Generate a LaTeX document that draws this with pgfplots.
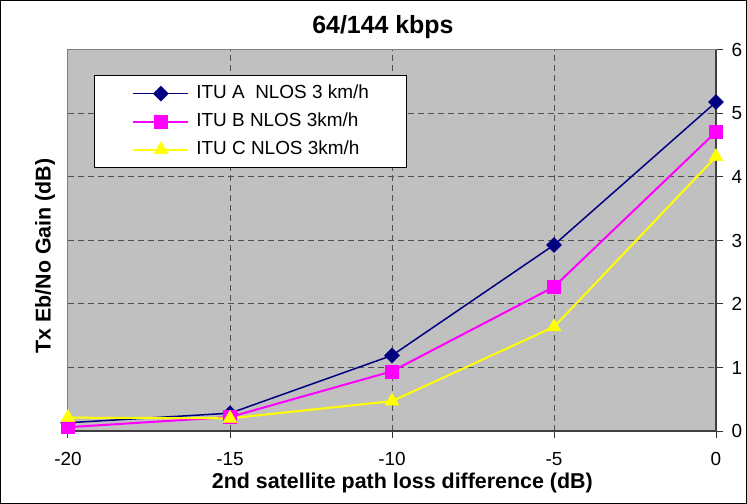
\documentclass[border=0pt]{standalone}
\usepackage{pgfplots}
\usepackage{pgfplotstable}
\pgfplotsset{compat=1.18}
\usepackage{fontspec}
\setmainfont{Liberation Sans}

\definecolor{plotgray}{RGB}{192,192,192}
\definecolor{gridgray}{RGB}{80,80,80}
\definecolor{ituA}{RGB}{0,0,128}
\definecolor{ituB}{RGB}{255,0,255}
\definecolor{ituC}{RGB}{255,255,0}

% gain vs. 2nd satellite path loss difference
\pgfplotstableread{
x     a     b     c
-20   0.13  0.06  0.21
-15   0.28  0.22  0.20
-10   1.19  0.94  0.47
-5    2.93  2.27  1.64
0     5.18  4.71  4.32
}\gaindata

\begin{document}
\begin{tikzpicture}
\begin{axis}[
    name=ax,
    scale only axis,
    width=648bp, height=381bp,
    xmin=-20, xmax=0, ymin=0, ymax=6,
    xtick={-20,-15,-10,-5,0},
    xticklabels={-20,-15,-10,-5,0},
    ytick={0,1,2,3,4,5,6},
    xtick pos=bottom, ytick pos=right,
    yticklabel pos=right,
    tick align=outside,
    major tick length=7bp,
    tick style={black!80, line width=1bp},
    /pgf/number format/assume math mode=true,
    ticklabel style={font=\fontsize{19}{19}\selectfont},
    xticklabel style={yshift=-11bp},
    yticklabel style={xshift=5bp},
    axis background/.style={fill=plotgray},
    axis line style={draw=gray, line width=1bp},
    grid=major,
    major grid style={gridgray, dashed, dash pattern=on 6bp off 4bp, line width=1bp},
    clip=false,
    title={64/144 kbps},
    title style={font=\bfseries\fontsize{25}{25}\selectfont, at={(0.486,1)}, anchor=base, yshift=11bp},
    xlabel={2nd satellite path loss difference (dB)},
    xlabel style={font=\bfseries\fontsize{21.5}{21.5}\selectfont, at={(0.516,0)}, anchor=base, yshift=-57bp},
    ylabel={Tx Eb/No Gain (dB)},
    ylabel style={font=\bfseries\fontsize{21.5}{21.5}\selectfont, at={(0,0.459)}, anchor=center, yshift=23bp},
    legend cell align=left,
    legend style={
        at={(0.040,0.934)}, anchor=north west,
        draw=black, fill=white, line width=1bp,
        font=\fontsize{19}{19}\selectfont,
        inner xsep=38bp, inner ysep=9bp,
        row sep=10bp, column sep=7bp,
        nodes={inner sep=0pt, text height=14bp, text depth=4bp},
    },
    legend image code/.code={
        \draw[mark repeat=2, mark phase=2, #1]
            plot coordinates {(0bp,0bp) (27.5bp,0bp) (55bp,0bp)};
    },
]
\addplot[ituA, line width=1.5bp, mark=square*, mark size=4.8bp,
    mark options={rotate=45, solid, fill=ituA}] table[x=x, y=a] {\gaindata};
\addlegendentry{ITU A\ \ NLOS 3 km/h}
\addplot[ituB, line width=2bp, mark=square*, mark size=6.5bp,
    mark options={solid, fill=ituB, line width=0.5bp}] table[x=x, y=b] {\gaindata};
\addlegendentry{ITU B NLOS 3km/h}
\addplot[ituC, line width=2bp, mark=triangle*, mark size=8bp,
    mark options={solid, fill=ituC, line width=0.5bp}] table[x=x, y=c] {\gaindata};
\addlegendentry{ITU C NLOS 3km/h}
% darker axis lines (bottom and right)
\draw[black!75, line width=1.5bp] (rel axis cs:0,0) -- (rel axis cs:1,0) -- (rel axis cs:1,1);
\end{axis}
% chart area border
\draw[black, line width=1bp]
    ([shift={(-67.5bp,-72.5bp)}]ax.south west) rectangle
    ([shift={(678.5bp,430.5bp)}]ax.south west);
\end{tikzpicture}
\end{document}
